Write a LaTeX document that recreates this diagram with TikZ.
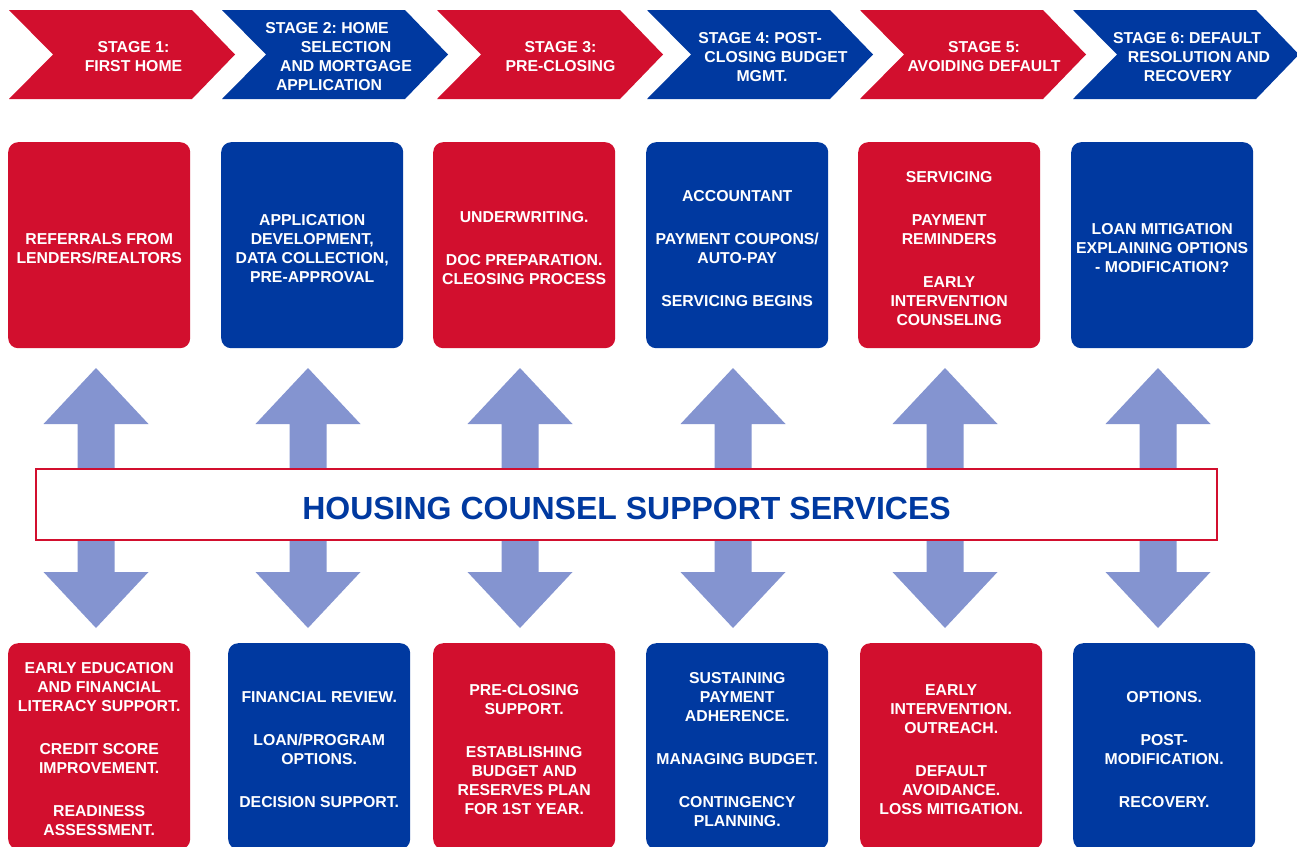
\documentclass[tikz,border=0pt]{standalone}
\usepackage{fontspec}
\setmainfont{Liberation Sans}
\definecolor{hred}{HTML}{D20F2E}
\definecolor{hblue}{HTML}{0039A0}
\definecolor{harrow}{HTML}{8494D0}
\begin{document}
\begin{tikzpicture}[x=1pt,y=-1pt,
  chev/.style={fill=#1, draw=none},
  stagetext/.style={text=white, font=\fontsize{15.8}{19}\selectfont\bfseries\frenchspacing, align=center, inner sep=0pt},
  card/.style={fill=#1, draw=none, rounded corners=10pt, minimum width=182pt, minimum height=206pt, anchor=north west, inner sep=0pt},
  cardtext/.style={text=white, font=\fontsize{15.8}{19}\selectfont\bfseries\frenchspacing, align=center, inner sep=0pt},
  dblarrow/.style={fill=harrow, draw=none},
  banner/.style={draw=hred, line width=2pt, fill=white}]
\path[use as bounding box, clip] (0,0) rectangle (1297,846);
\fill[white] (0,0) rectangle (1297,846);

% chevrons
\foreach \l/\c in {9/hred, 222/hblue, 437/hred, 647/hblue, 860/hred, 1073/hblue}{
  \fill[chev=\c] (\l,10) -- ++(183,0) -- ++(43,44.5) -- ++(-43,44.5) -- ++(-183,0) -- ++(44,-44.5) -- cycle;
}
\node[stagetext] (s1) at (133.5,57) {STAGE 1:\\FIRST HOME};
\node[stagetext] (s2) at (346,57) {STAGE 2: HOME\hspace{38pt}\mbox{}\\SELECTION\\AND MORTGAGE\\APPLICATION\hspace{34pt}\mbox{}};
\node[stagetext] (s3) at (560.5,57) {STAGE 3:\\PRE-CLOSING};
\node[stagetext] (s4) at (776,57) {STAGE 4: POST-\hspace{32pt}\mbox{}\\CLOSING BUDGET\\MGMT.\hspace{28pt}\mbox{}};
\node[stagetext] (s5) at (984,57) {STAGE 5:\\AVOIDING DEFAULT};
\node[stagetext] (s6) at (1199,57) {STAGE 6: DEFAULT\hspace{24pt}\mbox{}\\RESOLUTION AND\\RECOVERY\hspace{22pt}\mbox{}};

% top cards
\node[card=hred] (t1) at (8,142) {};
\node[card=hblue] (t2) at (221,142) {};
\node[card=hred] (t3) at (433,142) {};
\node[card=hblue] (t4) at (646,142) {};
\node[card=hred] (t5) at (858,142) {};
\node[card=hblue] (t6) at (1071,142) {};
\node[cardtext] (t1x) at ([yshift=-3pt]t1.center) {REFERRALS FROM\\LENDERS/REALTORS};
\node[cardtext] (t2x) at ([yshift=-3pt]t2.center) {APPLICATION\\DEVELOPMENT,\\DATA COLLECTION,\\PRE-APPROVAL};
\node[cardtext] (t3x) at ([yshift=-3pt]t3.center) {UNDERWRITING.\\[24pt]DOC PREPARATION.\\CLEOSING PROCESS};
\node[cardtext] (t4x) at ([yshift=-3pt]t4.center) {ACCOUNTANT\\[24pt]PAYMENT COUPONS/\\AUTO-PAY\\[24pt]SERVICING BEGINS};
\node[cardtext] (t5x) at ([yshift=-3pt]t5.center) {SERVICING\\[24pt]PAYMENT\\REMINDERS\\[24pt]EARLY\\INTERVENTION\\COUNSELING};
\node[cardtext] (t6x) at ([yshift=-3pt]t6.center) {LOAN MITIGATION\\EXPLAINING OPTIONS\\- MODIFICATION?};

% double arrows
\foreach \cx in {96,308,520,733,945,1158}{
  \fill[dblarrow] (\cx,368) -- (\cx+52.5,424) -- (\cx+18.5,424) -- (\cx+18.5,572) -- (\cx+52.5,572)
    -- (\cx,628) -- (\cx-52.5,572) -- (\cx-18.5,572) -- (\cx-18.5,424) -- (\cx-52.5,424) -- cycle;
}

% banner
\draw[banner] (36,469) rectangle (1217,540);
\node[text=hblue, font=\fontsize{32}{38}\selectfont\bfseries, inner sep=0pt] (hc) at (626.5,508.5) {HOUSING COUNSEL SUPPORT SERVICES};

% bottom cards
\node[card=hred] (b1) at (8,643) {};
\node[card=hblue] (b2) at (228,643) {};
\node[card=hred] (b3) at (433,643) {};
\node[card=hblue] (b4) at (646,643) {};
\node[card=hred] (b5) at (860,643) {};
\node[card=hblue] (b6) at (1073,643) {};
\node[cardtext] (b1x) at ([yshift=-3pt]b1.center) {EARLY EDUCATION\\AND FINANCIAL\\LITERACY SUPPORT.\\[24pt]CREDIT SCORE\\IMPROVEMENT.\\[24pt]READINESS\\ASSESSMENT.};
\node[cardtext] (b2x) at ([yshift=-3pt]b2.center) {FINANCIAL REVIEW.\\[24pt]LOAN/PROGRAM\\OPTIONS.\\[24pt]DECISION SUPPORT.};
\node[cardtext] (b3x) at ([yshift=-3pt]b3.center) {PRE-CLOSING\\SUPPORT.\\[24pt]ESTABLISHING\\BUDGET AND\\RESERVES PLAN\\FOR 1ST YEAR.};
\node[cardtext] (b4x) at ([yshift=-3pt]b4.center) {SUSTAINING\\PAYMENT\\ADHERENCE.\\[24pt]MANAGING BUDGET.\\[24pt]CONTINGENCY\\PLANNING.};
\node[cardtext] (b5x) at ([yshift=-3pt]b5.center) {EARLY\\INTERVENTION.\\OUTREACH.\\[24pt]DEFAULT\\AVOIDANCE.\\LOSS MITIGATION.};
\node[cardtext] (b6x) at ([yshift=-3pt]b6.center) {OPTIONS.\\[24pt]POST-\\MODIFICATION.\\[24pt]RECOVERY.};
\end{tikzpicture}
\end{document}
